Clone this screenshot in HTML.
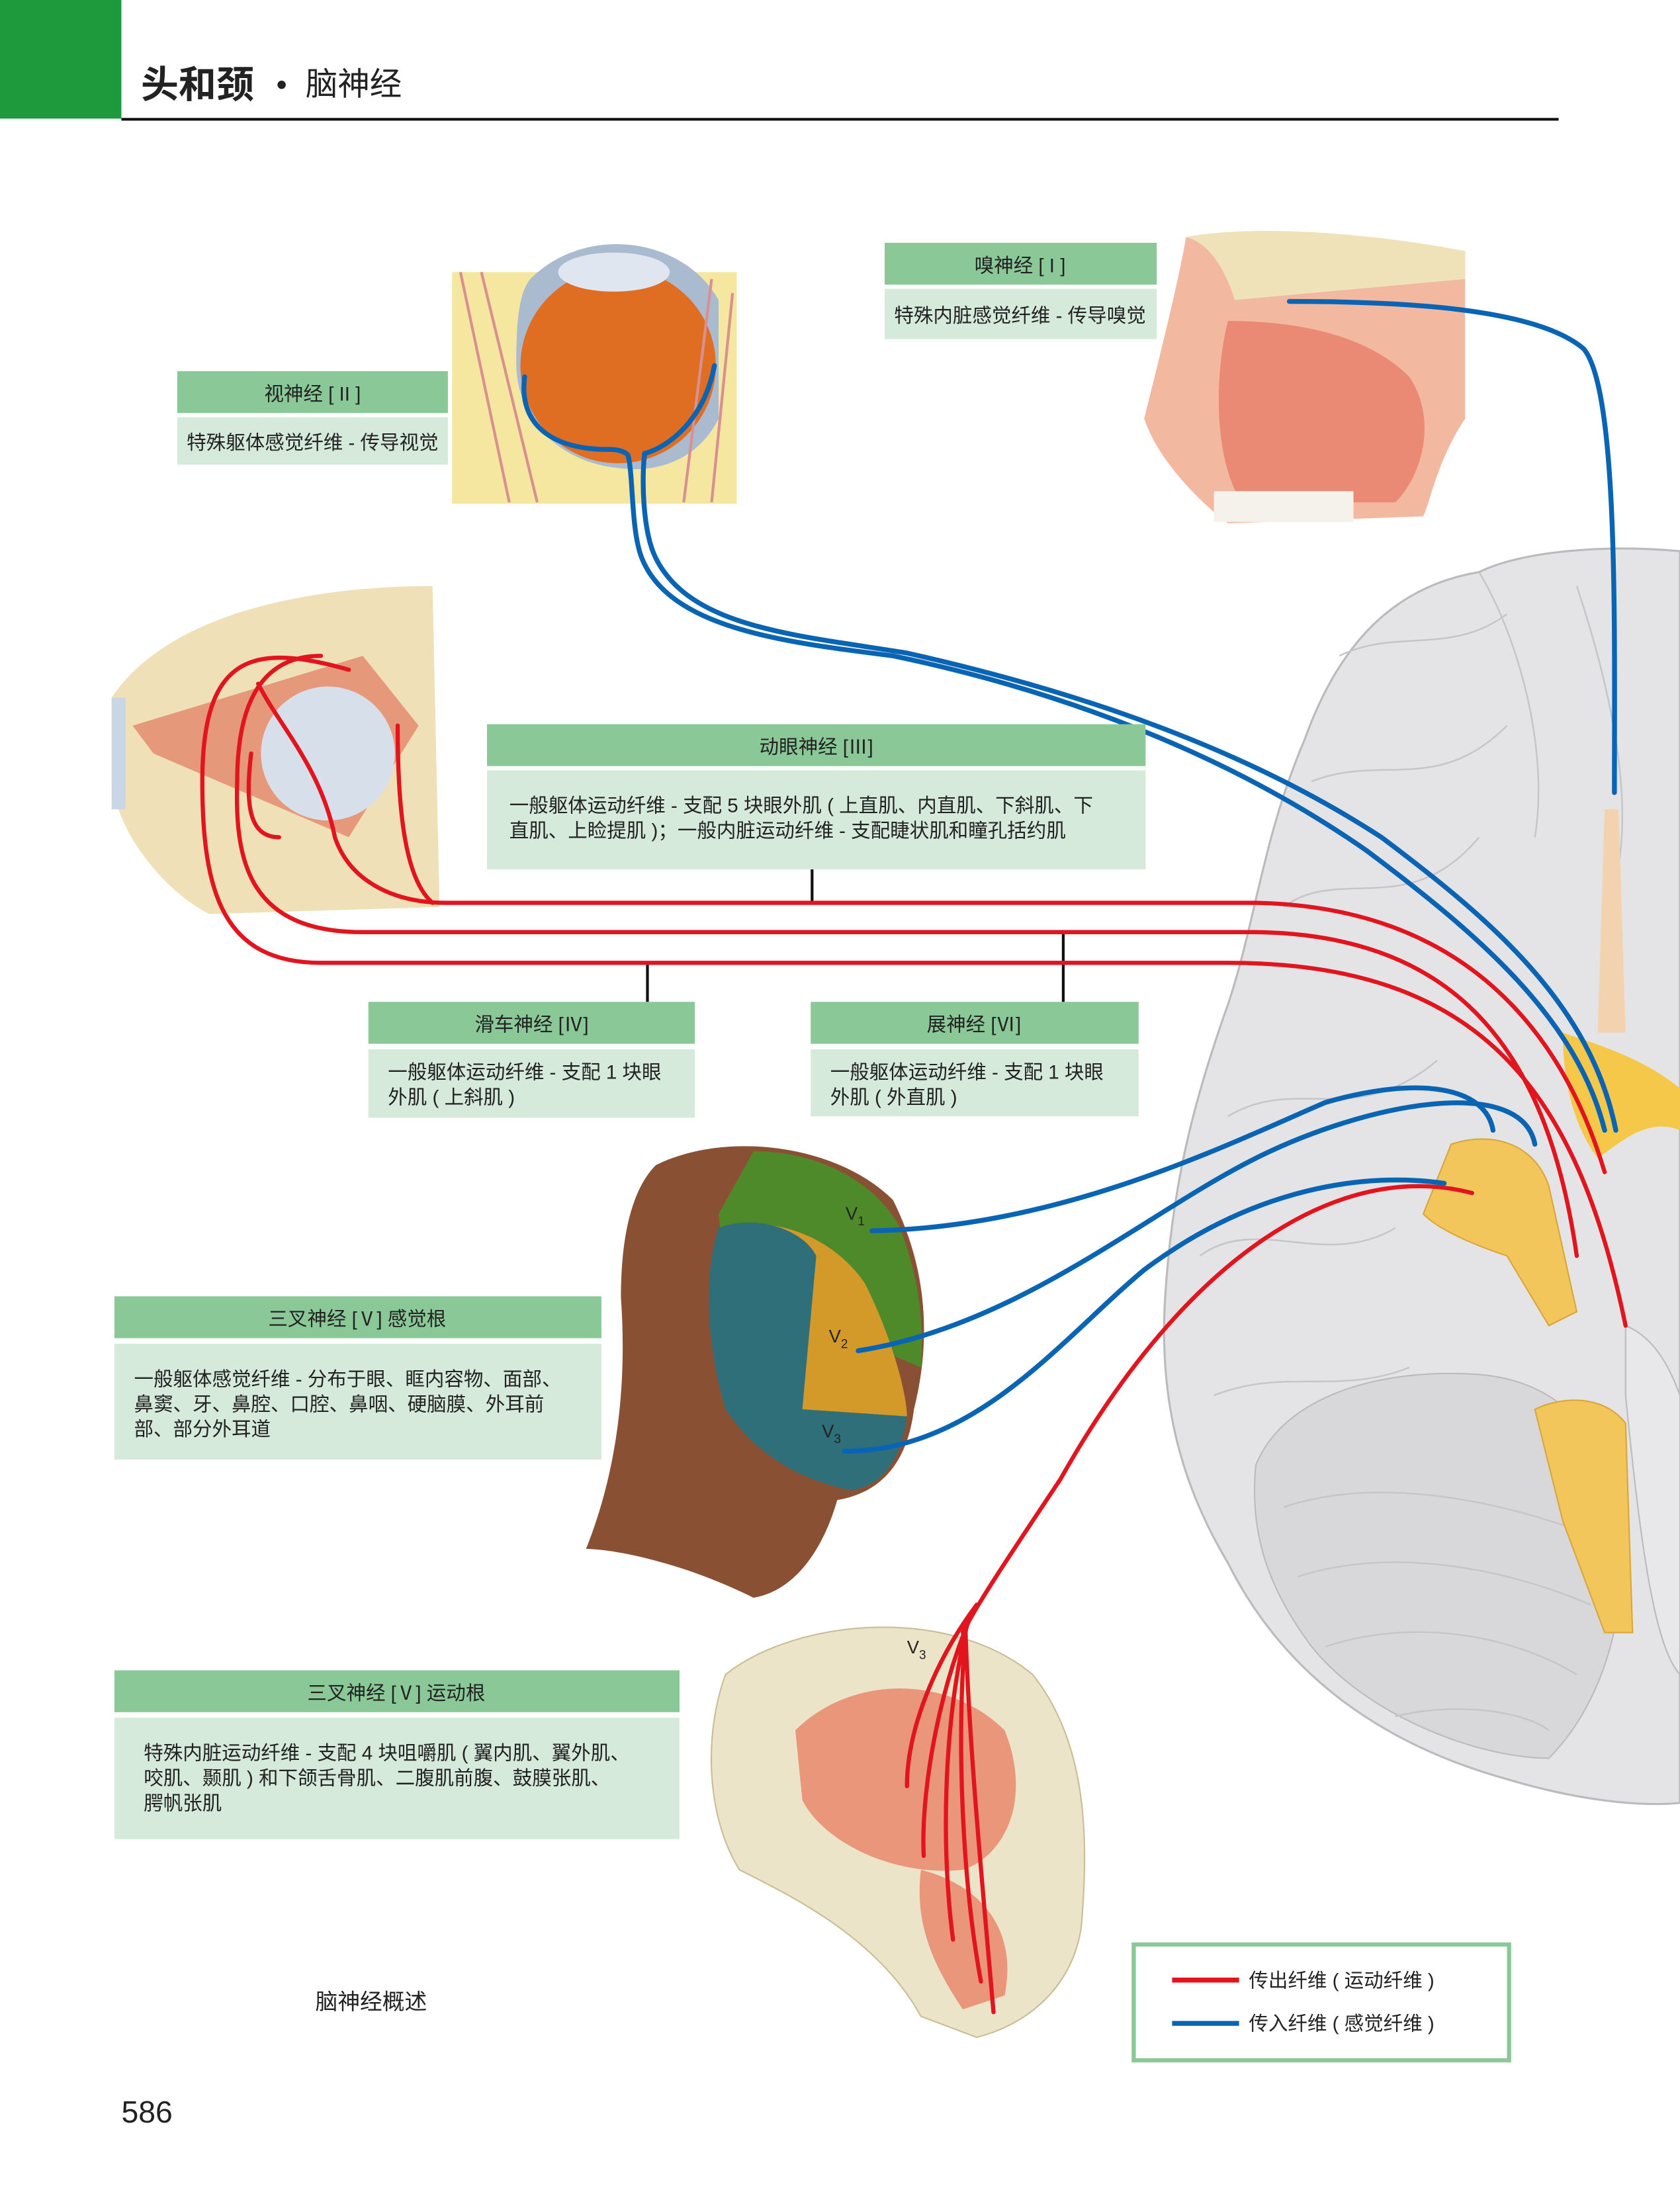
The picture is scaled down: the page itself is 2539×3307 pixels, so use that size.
<!DOCTYPE html>
<html><head><meta charset="utf-8"><style>
html,body{margin:0;padding:0;background:#fff}
svg{display:block}
text{font-family:"Liberation Sans","Noto Sans CJK SC",sans-serif;fill:#222}
</style></head><body>
<svg width="2539" height="3307" viewBox="0 0 1204 1568" preserveAspectRatio="none" xmlns="http://www.w3.org/2000/svg">
<rect width="1204" height="1568" fill="#fff"/>
<!-- header -->
<rect x="0" y="0" width="87" height="85" fill="#1e9a3c"/>
<line x1="87" y1="85.5" x2="1117" y2="85.5" stroke="#111" stroke-width="2"/>
<text x="101" y="70" font-size="27" font-weight="bold">头和颈</text>
<text x="198" y="68" font-size="22">•</text>
<text x="219" y="68" font-size="23">脑神经</text>

<!-- brain -->
<path d="M1204 395 C1150 390 1090 395 1060 410 C1000 420 960 460 935 530 C905 600 900 660 880 720 C855 790 840 850 835 930 C830 1010 850 1070 880 1120 C920 1200 990 1250 1080 1275 C1130 1290 1175 1295 1204 1292 Z" fill="#e4e4e6" stroke="#bbb" stroke-width="1.5"/>
<path d="M900 1050 C920 1000 990 980 1060 985 C1120 990 1150 1030 1160 1080 C1170 1150 1150 1220 1110 1260 C1060 1260 980 1230 940 1180 C910 1140 895 1100 900 1050 Z" fill="#d8d8da" stroke="#bbb"/>
<g stroke="#c6c6c8" stroke-width="1.2" fill="none">
<path d="M960 470 C1000 450 1040 470 1080 440"/><path d="M940 560 C990 540 1030 570 1080 520"/>
<path d="M920 650 C960 620 1010 660 1060 600"/><path d="M880 800 C930 770 970 810 1030 760"/>
<path d="M860 900 C900 870 950 910 1000 880"/><path d="M870 1000 C920 980 960 1000 1010 980"/>
<path d="M920 1080 C980 1060 1060 1070 1140 1100"/><path d="M930 1130 C990 1110 1070 1120 1140 1150"/>
<path d="M950 1180 C1010 1160 1080 1170 1130 1200"/><path d="M1000 1230 C1040 1220 1090 1225 1110 1240"/>
<path d="M1060 410 C1090 460 1110 540 1100 600"/><path d="M1130 420 C1150 480 1170 560 1160 620"/>
</g>
<path d="M1150 580 L1160 580 L1165 740 L1145 740 Z" fill="#f3d2b0"/>
<path d="M1120 740 C1150 750 1180 760 1204 780 L1204 810 C1180 800 1160 820 1145 830 C1130 810 1120 780 1120 740 Z" fill="#f5c84a"/>
<path d="M1040 820 C1070 810 1100 820 1110 850 L1130 940 L1110 950 L1080 900 C1050 890 1030 880 1020 870 Z" fill="#f3c65c" stroke="#d9a63a"/>
<path d="M1100 1010 C1120 1000 1150 1000 1165 1020 L1170 1170 L1150 1170 L1120 1090 Z" fill="#f3c65c" stroke="#d9a63a"/>
<path d="M1165 950 C1190 960 1200 990 1204 1000 L1204 1200 C1185 1180 1175 1100 1165 1000 Z" fill="#e8e8ea" stroke="#bbb"/>

<!-- nose illustration -->
<path d="M850 170 C900 160 990 170 1050 180 L1050 300 C1030 330 1025 360 1020 370 L880 375 C860 360 830 330 820 300 C830 260 845 200 850 170 Z" fill="#f2b8a0"/>
<path d="M850 170 C870 175 880 200 885 215 L1050 200 L1050 180 C990 168 900 160 850 170 Z" fill="#efe2b8"/>
<path d="M880 230 C930 230 980 240 1010 270 C1030 300 1020 340 1000 360 L890 360 C870 330 870 270 880 230 Z" fill="#ea8a75"/>
<rect x="870" y="352" width="100" height="22" fill="#f4f2ea"/>

<!-- eye illustration -->
<rect x="324" y="195" width="204" height="166" fill="#f5e6a0"/>
<path d="M380 200 C420 160 490 170 515 215 L515 300 C500 330 470 340 440 335 C400 330 370 300 370 260 C370 230 372 210 380 200 Z" fill="#aabbd0"/>
<circle cx="443" cy="262" r="70" fill="#e06e22"/>
<ellipse cx="440" cy="195" rx="40" ry="14" fill="#dfe6ef"/>
<path d="M330 195 L365 360 M345 195 L385 360 M510 200 L490 360 M525 210 L510 360" stroke="#d99090" stroke-width="2"/>

<!-- orbit illustration -->
<path d="M80 500 C120 440 220 420 310 420 L315 650 L150 655 C120 640 85 600 80 560 Z" fill="#efe0b8"/>
<path d="M95 520 L260 470 L300 520 L250 600 L110 540 Z" fill="#e6997a"/>
<circle cx="235" cy="540" r="48" fill="#d7e0ea"/>
<path d="M90 500 L90 580 L80 580 L80 500 Z" fill="#c9d6e6"/>

<!-- head illustration -->
<path d="M470 835 C520 810 600 820 640 860 C660 900 670 950 655 1010 C650 1050 630 1070 600 1075 C590 1110 570 1140 540 1145 C490 1120 440 1110 420 1110 C440 1060 450 1000 445 930 C445 880 455 850 470 835 Z" fill="#8a5034"/>
<path d="M540 825 C590 825 630 850 645 880 C660 920 662 950 660 980 L520 920 L515 870 Z" fill="#4f8a2a"/>
<path d="M520 880 C560 870 600 890 620 920 C640 960 650 1000 650 1015 L575 1010 L520 980 Z" fill="#d39a2a"/>
<path d="M515 880 C540 870 575 880 585 900 L575 1010 L650 1015 C645 1050 630 1065 610 1068 C570 1060 540 1040 520 1010 C505 960 505 910 515 880 Z" fill="#2f6f7a"/>
<text x="606" y="874" font-size="13" fill="#111">V<tspan font-size="9" dy="4">1</tspan></text>
<text x="594" y="962" font-size="13" fill="#111">V<tspan font-size="9" dy="4">2</tspan></text>
<text x="589" y="1030" font-size="13" fill="#111">V<tspan font-size="9" dy="4">3</tspan></text>

<!-- skull -->
<path d="M520 1200 C570 1160 680 1150 740 1200 C780 1250 780 1320 775 1380 C770 1420 740 1450 700 1460 L660 1445 C630 1390 570 1360 530 1340 C505 1300 505 1240 520 1200 Z" fill="#ece4c8" stroke="#c9bd98"/>
<path d="M570 1240 C610 1200 680 1200 720 1240 C740 1290 720 1330 690 1340 C640 1345 590 1320 575 1290 Z" fill="#e9967a"/>
<path d="M660 1340 C700 1350 730 1380 720 1430 L690 1440 C670 1410 655 1380 660 1340 Z" fill="#e9967a"/>
<text x="650" y="1185" font-size="13" fill="#111">V<tspan font-size="9" dy="4">3</tspan></text>

<!-- connectors -->
<g stroke="#111" stroke-width="2"><line x1="582" y1="623" x2="582" y2="647"/><line x1="464" y1="690" x2="464" y2="718"/><line x1="762" y1="668" x2="762" y2="718"/></g>

<!-- blue lines -->
<g fill="none" stroke="#0a64b4" stroke-width="3.5" stroke-linecap="round">
<path d="M924 216 C1000 216 1100 220 1135 250 C1160 280 1157 450 1157 568"/>
<path d="M376 270 C372 300 390 320 430 322 C440 322 446 322 450 326 C454 340 452 380 460 400 C480 450 560 460 640 470 C760 495 880 540 980 610 C1060 670 1130 730 1150 810"/>
<path d="M512 262 C505 300 480 320 462 325 C460 340 460 380 470 400 C495 450 570 455 650 468 C770 495 890 535 990 600 C1070 660 1140 720 1158 810"/>
<path d="M625 882 C760 880 880 820 950 790 C1020 770 1065 780 1070 810"/>
<path d="M615 968 C730 950 820 870 900 830 C980 790 1090 770 1100 820"/>
<path d="M605 1040 C700 1040 760 960 820 910 C900 850 980 840 1035 848"/>
</g>
<!-- red lines -->
<g fill="none" stroke="#e2141e" stroke-width="3" stroke-linecap="round">
<path d="M185 490 C200 520 230 550 240 600 C250 630 280 647 320 647 L900 647 C1050 650 1120 740 1150 840"/>
<path d="M230 470 C190 470 170 500 170 560 C168 620 180 668 260 668 L900 668 C1050 670 1110 760 1130 900"/>
<path d="M250 480 C180 460 145 470 145 560 C145 640 160 690 230 690 L880 690 C1060 690 1130 780 1165 950"/>
<path d="M285 520 C285 580 290 630 310 647"/>
<path d="M180 540 C175 580 180 600 200 600"/>
<path d="M1055 855 C960 830 850 900 760 1060 C720 1120 700 1150 690 1170"/>
<path d="M700 1150 C670 1190 650 1240 650 1280"/>
<path d="M695 1160 C670 1220 660 1290 662 1330"/>
<path d="M693 1165 C675 1240 675 1330 683 1390"/>
<path d="M692 1168 C685 1250 690 1350 703 1420"/>
<path d="M692 1170 C695 1260 705 1360 712 1442"/>
</g>

<!-- label boxes -->
<g>
<rect x="634" y="174" width="195" height="30" fill="#8ac897"/><rect x="634" y="207" width="195" height="36" fill="#d6eadb"/>
<text x="731" y="195" font-size="14" text-anchor="middle">嗅神经 [ I ]</text>
<text x="731" y="231" font-size="14" text-anchor="middle">特殊内脏感觉纤维 - 传导嗅觉</text>

<rect x="127" y="266" width="194" height="30" fill="#8ac897"/><rect x="127" y="299" width="194" height="34" fill="#d6eadb"/>
<text x="224" y="287" font-size="14" text-anchor="middle">视神经 [ II ]</text>
<text x="224" y="322" font-size="14" text-anchor="middle">特殊躯体感觉纤维 - 传导视觉</text>

<rect x="349" y="519" width="472" height="30" fill="#8ac897"/><rect x="349" y="552" width="472" height="71" fill="#d6eadb"/>
<text x="585" y="540" font-size="14" text-anchor="middle">动眼神经 [Ⅲ]</text>
<text x="365" y="582" font-size="14">一般躯体运动纤维 - 支配 5 块眼外肌 ( 上直肌、内直肌、下斜肌、下</text>
<text x="365" y="600" font-size="14">直肌、上睑提肌 )；一般内脏运动纤维 - 支配睫状肌和瞳孔括约肌</text>

<rect x="264" y="718" width="234" height="30" fill="#8ac897"/><rect x="264" y="752" width="234" height="49" fill="#d6eadb"/>
<text x="381" y="739" font-size="14" text-anchor="middle">滑车神经 [Ⅳ]</text>
<text x="278" y="773" font-size="14">一般躯体运动纤维 - 支配 1 块眼</text>
<text x="278" y="791" font-size="14">外肌 ( 上斜肌 )</text>

<rect x="581" y="718" width="235" height="30" fill="#8ac897"/><rect x="581" y="752" width="235" height="48" fill="#d6eadb"/>
<text x="698" y="739" font-size="14" text-anchor="middle">展神经 [Ⅵ]</text>
<text x="595" y="773" font-size="14">一般躯体运动纤维 - 支配 1 块眼</text>
<text x="595" y="791" font-size="14">外肌 ( 外直肌 )</text>

<rect x="82" y="929" width="349" height="30" fill="#8ac897"/><rect x="82" y="963" width="349" height="83" fill="#d6eadb"/>
<text x="256" y="950" font-size="14" text-anchor="middle">三叉神经 [Ⅴ] 感觉根</text>
<text x="96" y="993" font-size="14">一般躯体感觉纤维 - 分布于眼、眶内容物、面部、</text>
<text x="96" y="1011" font-size="14">鼻窦、牙、鼻腔、口腔、鼻咽、硬脑膜、外耳前</text>
<text x="96" y="1029" font-size="14">部、部分外耳道</text>

<rect x="82" y="1197" width="405" height="30" fill="#8ac897"/><rect x="82" y="1231" width="405" height="87" fill="#d6eadb"/>
<text x="284" y="1218" font-size="14" text-anchor="middle">三叉神经 [Ⅴ] 运动根</text>
<text x="103" y="1261" font-size="14">特殊内脏运动纤维 - 支配 4 块咀嚼肌 ( 翼内肌、翼外肌、</text>
<text x="103" y="1279" font-size="14">咬肌、颞肌 ) 和下颌舌骨肌、二腹肌前腹、鼓膜张肌、</text>
<text x="103" y="1297" font-size="14">腭帆张肌</text>
</g>

<!-- legend -->
<rect x="812.5" y="1393.5" width="269" height="83" fill="#fff" stroke="#8ac897" stroke-width="3"/>
<line x1="840" y1="1419" x2="888" y2="1419" stroke="#e2141e" stroke-width="3.5"/>
<line x1="840" y1="1450" x2="888" y2="1450" stroke="#0a64b4" stroke-width="3.5"/>
<text x="895" y="1424" font-size="14">传出纤维 ( 运动纤维 )</text>
<text x="895" y="1455" font-size="14">传入纤维 ( 感觉纤维 )</text>

<text x="226" y="1440" font-size="16">脑神经概述</text>
<text x="87" y="1521" font-size="22">586</text>
</svg>
</body></html>
